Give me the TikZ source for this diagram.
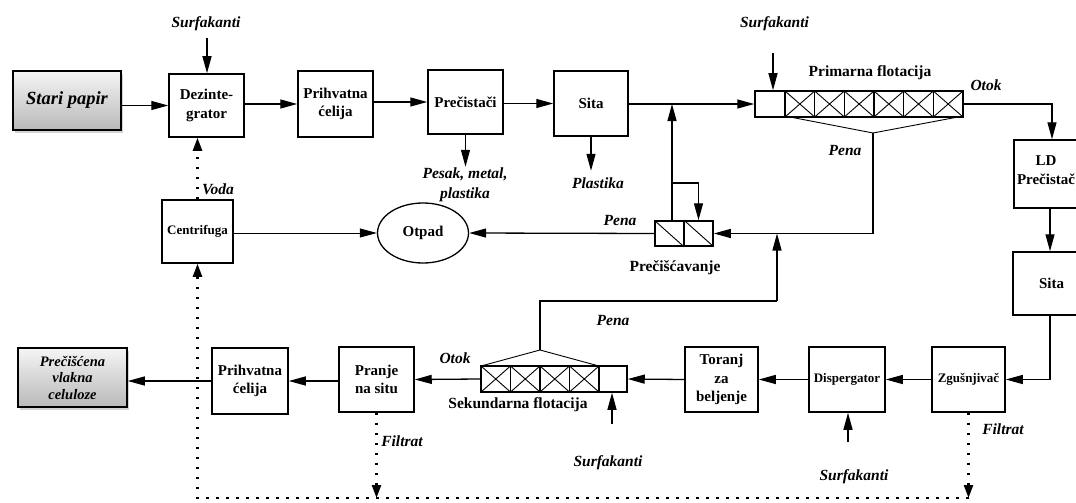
\documentclass[tikz,border=0pt]{standalone}
\usepackage{fontspec}
\setmainfont{Liberation Serif}
\usetikzlibrary{arrows.meta,shapes.geometric,shadows,calc}
\begin{document}
\begin{tikzpicture}[x=1pt,y=-1pt,
  box/.style={draw,line width=1.5pt,fill=white,inner sep=1pt,align=center,font=\fontsize{15}{18.5}\selectfont\bfseries},
  sbox/.style={box,font=\fontsize{13}{15}\selectfont\bfseries},
  gbox/.style={draw,line width=1.5pt,top color=gray!8,bottom color=gray!55,align=center,inner sep=1pt,drop shadow={opacity=0.35,shadow xshift=2pt,shadow yshift=-3pt}},
  lab/.style={inner sep=0pt,font=\fontsize{15.5}{20}\selectfont\bfseries\itshape,align=center},
  tlab/.style={inner sep=0pt,font=\fontsize{15.5}{17}\selectfont\bfseries},
  arr/.style={line width=1.3pt,-{Triangle[length=17pt,width=9pt]}},
  ln/.style={line width=1.3pt},
  thinl/.style={line width=0.9pt},
  dotl/.style={line width=2.3pt,dash pattern=on 2.3pt off 7.7pt},
  darr/.style={dotl,-{Triangle[length=13pt,width=9pt]}},
  cell/.style={draw,line width=1.5pt,inner sep=0pt}
]
\useasboundingbox (0,0) rectangle (1076,503);
\clip (0,0) rectangle (1076,503);

% boxes
\node[gbox,minimum width=108,minimum height=59,font=\fontsize{18.5}{20}\selectfont\bfseries\itshape] (stari) at (67,100.5) {Stari papir};
\node[box,minimum width=75,minimum height=63] (dez) at (206.5,105.5) {Dezinte-\\grator};
\node[box,minimum width=75,minimum height=66] (prih1) at (335.5,104) {Prihvatna\\ćelija};
\node[box,minimum width=75,minimum height=64] (prec) at (465.5,102) {Prečistači};
\node[box,minimum width=74,minimum height=65] (sita1) at (591,103.5) {Sita};
\node[sbox,minimum width=71,minimum height=63] (cent) at (197.5,231.5) {Centrifuga};
\node[draw,ellipse,line width=1.3pt,minimum width=91,minimum height=60,inner sep=0pt,font=\fontsize{15}{17}\selectfont\bfseries] (otpad) at (423,233) {Otpad};
\node[box,minimum width=76,minimum height=68] (ld) at (1052,174) {};
\node[inner sep=0pt,align=center,font=\fontsize{15}{18.5}\selectfont\bfseries] (ldt) at (1046,170) {LD\\Prečistač};
\node[box,minimum width=77,minimum height=63] (sita2) at (1051.5,283.5) {Sita};
\node[sbox,minimum width=73,minimum height=65] (zg) at (968.5,379.5) {Zgušnjivač};
\node[sbox,minimum width=76,minimum height=65] (disp) at (847,379.5) {Dispergator};
\node[box,minimum width=73,minimum height=65] (tor) at (721.5,379.5) {Toranj\\za\\beljenje};
\node[box,minimum width=75,minimum height=65] (pranje) at (376.5,379.5) {Pranje\\na situ};
\node[box,minimum width=76,minimum height=66] (prih2) at (250,381) {Prihvatna\\ćelija};
\node[gbox,minimum width=109,minimum height=59,font=\fontsize{14.5}{16.5}\selectfont\bfseries\itshape] (cel) at (72.5,377.5) {Prečišćena\\vlakna\\celuloze};

% primary flotation
\node[cell,minimum width=30,minimum height=26] (pin) at (770,104) {};
\node[cell,minimum width=178,minimum height=26] (pcell) at (874,104) {};
\foreach \i in {0,...,5}{
  \pgfmathsetmacro\xa{785+\i*29.667}
  \pgfmathsetmacro\xb{\xa+29.667}
  \draw[thinl] (\xa,91) -- (\xb,117) (\xa,117) -- (\xb,91);
  \draw[ln] (\xa,91) -- (\xa,117);
}
% secondary flotation
\node[cell,minimum width=28,minimum height=26] (sin) at (613,379) {};
\node[cell,minimum width=118,minimum height=26] (scell) at (540,379) {};
\foreach \i in {0,...,3}{
  \pgfmathsetmacro\xa{481+\i*29.5}
  \pgfmathsetmacro\xb{\xa+29.5}
  \draw[thinl] (\xa,366) -- (\xb,392) (\xa,392) -- (\xb,366);
  \draw[ln] (\xa,366) -- (\xa,392);
}
% precišćavanje
\node[cell,minimum width=58,minimum height=25] (prb) at (684,233.5) {};
\draw[ln] (prb.north) -- (prb.south);
\draw[thinl] (prb.north west) -- (prb.south) (prb.north) -- (prb.south east);

% labels
\node[lab] (l1) at (206,24) {Surfakanti};
\node[lab] (l2) at (774.5,24) {Surfakanti};
\node[lab] (l3) at (218,189) {Voda};
\node[lab] (l4) at (465,185) {Pesak, metal,\\plastika};
\node[lab] (l5) at (598,183) {Plastika};
\node[lab] (l6) at (620,221) {Pena};
\node[lab] (l7) at (845,151) {Pena};
\node[lab] (l8) at (986,85) {Otok};
\node[tlab] (l9) at (870,73) {Primarna flotacija};
\node[tlab] (l10) at (675,268) {Prečišćavanje};
\node[lab] (l11) at (613,321) {Pena};
\node[lab] (l12) at (455,358) {Otok};
\node[tlab] (l13) at (518,405) {Sekundarna flotacija};
\node[lab] (l14) at (402,441) {Filtrat};
\node[lab] (l15) at (608,463) {Surfakanti};
\node[lab] (l16) at (1003,429) {Filtrat};
\node[lab] (l17) at (854,477) {Surfakanti};

% coordinates
\coordinate (s1) at (207,38);
\coordinate (s2) at (773,53);
\coordinate (s3) at (612,424);
\coordinate (s4) at (848,442);
\coordinate (pa) at (873,133);
\coordinate (sa) at (540,350);
\coordinate (j1) at (672,104);
\coordinate (j2) at (672,183);
\coordinate (j3) at (777,233.5);
\coordinate (j4) at (777,301);
\coordinate (b1) at (197.5,498);
\coordinate (w1) at (1050,315);
\coordinate (w2) at (1050,208);

% top row
\draw[arr] (stari.east |- dez.west) -- (dez.west);
\draw[arr] (dez.east |- prih1.west) -- (prih1.west);
\draw[arr] (prih1.east |- prec.west) -- (prec.west);
\draw[arr] (prec.east |- sita1.west) -- (sita1.west);
\draw[arr] (sita1.east |- pin.west) -- (pin.west);
\draw[arr] (s1) -- (s1 |- dez.north);
\draw[arr] (s2) -- (s2 |- pin.north);
\draw[arr] (prec.south) -- ++(0,32);
\draw[arr] (sita1.south) -- ++(0,34);
\draw[arr] (pcell.east) -| (ld.north);

% foam
\draw[thinl] (790,117) -- (pa) -- (958,117);
\draw[arr] (pa) |- (prb.east);
\draw[arr] (j1 |- prb.north) -- (j1);
\draw[arr] (j2) -| ($(prb.north)+(14.5,0)$);
\draw[arr] (prb.west) -- (otpad.east);
\draw[line width=0.9pt,-{Triangle[length=17pt,width=9pt]}] (cent.east |- otpad.west) -- (otpad.west);
\draw[thinl] (481,366) -- (sa) -- (599,366);
\draw[ln] (sa) |- (j4);
\draw[arr] (j4) -- (j3);

% right side and bottom row
\draw[arr] (w2) -- (w2 |- sita2.north);
\draw[arr] (w1) |- (zg.east);
\draw[arr] (zg.west) -- (disp.east);
\draw[arr] (disp.west) -- (tor.east);
\draw[arr] (tor.west) -- (sin.east);
\draw[arr] (s4) -- (s4 |- disp.south);
\draw[arr] (s3) -- (s3 |- sin.south);
\draw[arr] (scell.west) -- (pranje.east);
\draw[arr] (pranje.west |- prih2.east) -- (prih2.east);
\draw[arr] (prih2.west) -- (prih2.west -| cel.east);

% water recirculation
\draw[darr] (cent.north) -- (cent.north |- dez.south);
\draw[darr] (pranje.south) -- (pranje.south |- b1);
\draw[darr] (zg.south) -- (zg.south |- b1);
\draw[darr] (zg.south |- b1) -- (b1) -- (cent.south);
\end{tikzpicture}
\end{document}
